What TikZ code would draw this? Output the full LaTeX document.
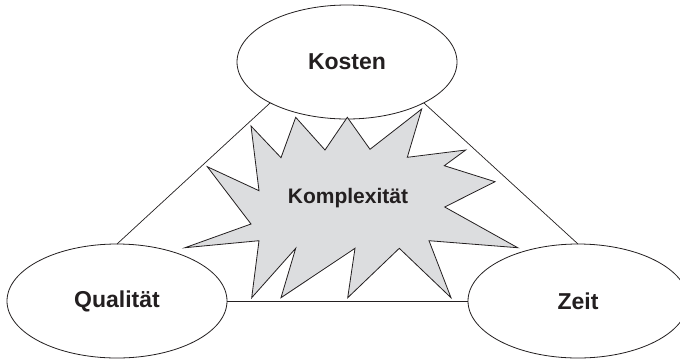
\documentclass[tikz,border=0pt]{standalone}
\usepackage{fontspec}
\setmainfont{Liberation Sans}
\usetikzlibrary{shapes.geometric}
\definecolor{inkdark}{HTML}{231F20}
\definecolor{burstgray}{HTML}{DCDDDF}
\tikzset{
  goal/.style={ellipse, draw=inkdark, line width=0.8pt, fill=white,
    minimum width=220pt, minimum height=114pt, inner sep=0pt, outer sep=0pt,
    text=inkdark, font=\fontsize{23}{26}\selectfont\bfseries},
  edge/.style={draw=inkdark, line width=0.7pt},
  burst/.style={draw=inkdark, line width=0.8pt, fill=burstgray, line join=miter},
  burstlabel/.style={text=inkdark, font=\fontsize{21}{24}\selectfont\bfseries, inner sep=0pt}
}
\begin{document}
\begin{tikzpicture}[x=1pt, y=-1pt]
  \useasboundingbox (0,0) rectangle (680,360);
  \clip (0,0) rectangle (680,360);
  \fill[white] (0,0) rectangle (680,360);

  % the three corners of the triangle
  \node[goal] (kosten) at (347,62) {\raisebox{-3pt}{Kosten}};
  \node[goal] (qual)   at (117,301) {Qualität};
  \node[goal] (zeit)   at (578,301) {\raisebox{-2pt}{Zeit}};

  % triangle edges
  \draw[edge] (kosten.208) -- (qual.north);
  \draw[edge] (kosten.332) -- (zeit.north);
  \draw[edge] (qual.east) -- (zeit.west);

  % starburst in the middle
  \draw[burst]
    (251,126) -- (281,157.7) -- (295.7,117.3) -- (325,150) -- (347.3,117.3)
    -- (370,149.3) -- (421.7,109) -- (407.3,157.3) -- (465.7,150)
    -- (444.3,165.7) -- (495,181.7) -- (444.7,207) -- (517.7,247.7)
    -- (429,240.7) -- (451,297.7) -- (399.3,248.3) -- (347.7,297.7)
    -- (355,248.3) -- (281,297.7) -- (295.7,248.3) -- (251.7,297.7)
    -- (259,240.7) -- (185,247.7) -- (251,224) -- (207.3,166.7)
    -- (259,190.7) -- cycle;
  \node[burstlabel] (komplex) at (348,197.7) {Komplexität};
\end{tikzpicture}
\end{document}
